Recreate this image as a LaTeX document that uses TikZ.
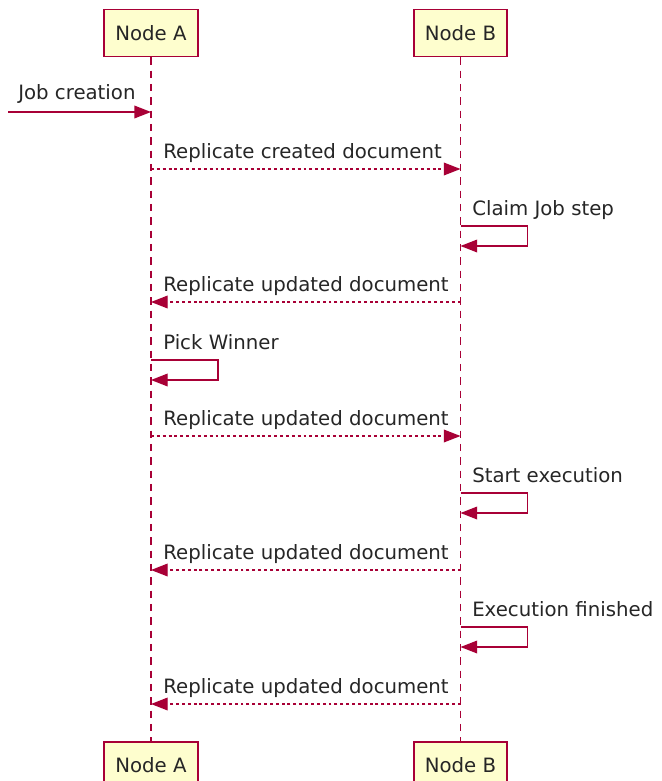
\documentclass[tikz,border=0pt]{standalone}
\usepackage{fontspec}
\setmainfont{DejaVu Sans}
\usetikzlibrary{arrows.meta}
\definecolor{umlred}{HTML}{A80036}
\definecolor{umlfill}{HTML}{FEFECE}
\tikzset{
  participant/.style={draw=umlred, fill=umlfill, line width=1.2pt, rectangle,
    minimum height=35.25pt, inner xsep=8.3pt, font=\fontsize{14.8}{17}\selectfont, text=black!85},
  lifeline/.style={draw=umlred, line width=1pt, dash pattern=on 5.5pt off 4.5pt},
  tip/.style={-{Triangle[length=12.5pt,width=9.5pt]}},
  syncmsg/.style={draw=umlred, line width=1pt, tip},
  replymsg/.style={draw=umlred, line width=1pt, tip, dash pattern=on 2.2pt off 2.2pt},
  msglabel/.style={anchor=base west, inner sep=0pt, font=\fontsize{14.8}{17}\selectfont, text=black!85}
}
\begin{document}
\begin{tikzpicture}[x=0.75pt, y=-0.75pt]
\clip (0,0) rectangle (661,781);
\fill[white] (0,0) rectangle (661,781);

% participants
\node[participant] (At) at (151,33) {Node A};
\node[participant] (Bt) at (460.5,33) {Node B};
\node[participant] (Ab) at (151,765.5) {Node A};
\node[participant] (Bb) at (460.5,765.5) {Node B};

% lifelines
\draw[lifeline] (At) -- (Ab);
\draw[lifeline] (Bt) -- (Bb);

% message anchors on the lifelines
\coordinate (jobsrc) at (8,112);
\coordinate (a1) at (151,112);
\coordinate (a2) at (151,169);
\coordinate (b2) at (460.5,169);
\coordinate (b3s) at (460.5,226);
\coordinate (b3e) at (460.5,246);
\coordinate (b4) at (460.5,302);
\coordinate (a4) at (151,302);
\coordinate (a5s) at (151,360);
\coordinate (a5e) at (151,380);
\coordinate (a6) at (151,436);
\coordinate (b6) at (460.5,436);
\coordinate (b7s) at (460.5,493);
\coordinate (b7e) at (460.5,513);
\coordinate (b8) at (460.5,570);
\coordinate (a8) at (151,570);
\coordinate (b9s) at (460.5,627);
\coordinate (b9e) at (460.5,647);
\coordinate (b10) at (460.5,704);
\coordinate (a10) at (151,704);

% messages
\draw[syncmsg] (jobsrc) -- (a1);
\node[msglabel] (l1) at (18,100) {Job creation};

\draw[replymsg] (a2) -- (b2);
\node[msglabel] (l2) at (163,158) {Replicate created document};

\draw[syncmsg] (b3s) -- ++(67,0) |- (b3e);
\node[msglabel] (l3) at (472,215) {Claim Job step};

\draw[replymsg] (b4) -- (a4);
\node[msglabel] (l4) at (163,291) {Replicate updated document};

\draw[syncmsg] (a5s) -- ++(67,0) |- (a5e);
\node[msglabel] (l5) at (163,349) {Pick Winner};

\draw[replymsg] (a6) -- (b6);
\node[msglabel] (l6) at (163,425) {Replicate updated document};

\draw[syncmsg] (b7s) -- ++(67,0) |- (b7e);
\node[msglabel] (l7) at (472,482) {Start execution};

\draw[replymsg] (b8) -- (a8);
\node[msglabel] (l8) at (163,559) {Replicate updated document};

\draw[syncmsg] (b9s) -- ++(67,0) |- (b9e);
\node[msglabel] (l9) at (472,616) {Execution finished};

\draw[replymsg] (b10) -- (a10);
\node[msglabel] (l10) at (163,693) {Replicate updated document};
\end{tikzpicture}
\end{document}
